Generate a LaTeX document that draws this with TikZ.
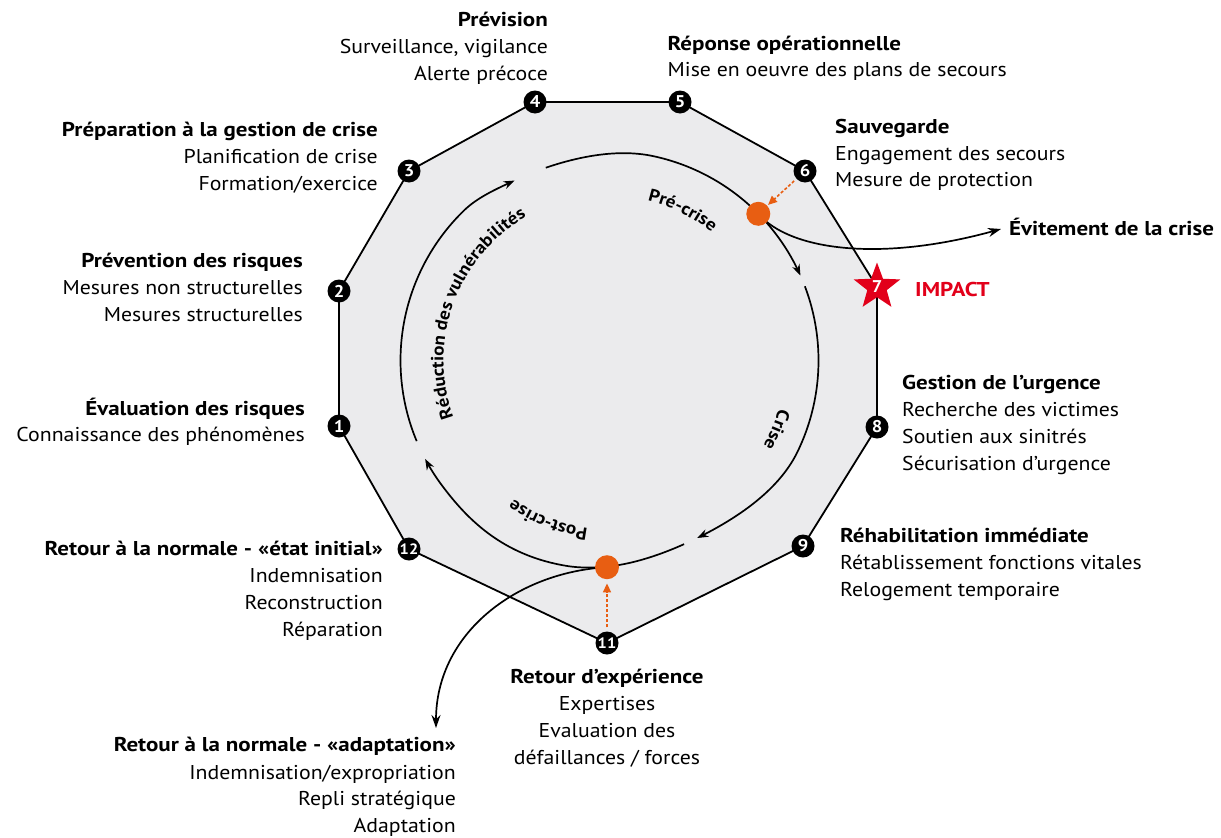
\documentclass[tikz,border=0pt]{standalone}
\usepackage{fontspec}
\setmainfont{PT Sans}[FakeStretch=1.09]
\newfontfamily\hdfont{PT Sans}[FakeStretch=1.15]
\usetikzlibrary{arrows.meta,shapes.geometric,decorations.text}
\definecolor{polyfill}{RGB}{235,235,237}
\definecolor{dotorange}{RGB}{232,94,18}
\definecolor{impactred}{RGB}{226,0,26}
\begin{document}
\begin{tikzpicture}[x=1pt,y=1pt,
  declare function={
    bmp(\t,\c,\w)=max(0,1-((\t-(\c))/\w)^2)^2;
    rA(\t)=209-6*bmp(\t,114,20);
    rB(\t)=209-6*bmp(\t,110,32);
    rC(\t)=209-11*bmp(\t,-64,38)+2.5*bmp(\t,-118,25);
  },
  lbl/.style={inner sep=0pt, font=\fontsize{20}{24}\selectfont},
  hd/.style={inner sep=0pt, font=\hdfont\bfseries\fontsize{20}{24}\selectfont},
  num/.style={circle, fill=black, text=white, inner sep=0pt, minimum size=23pt, font=\bfseries\fontsize{17}{17}\selectfont},
  num2/.style={num, font=\bfseries\fontsize{15}{15}\selectfont},
  dot/.style={circle, fill=dotorange, inner sep=0pt, minimum size=24pt},
  poly/.style={line width=1.8pt, line join=miter},
  cyc/.style={line width=1.7pt},
  cyctip/.style={cyc, -{Stealth[length=11pt,width=8pt]}},
  outtip/.style={line width=1.7pt, -{Stealth[length=13pt,width=9pt]}},
  orarrow/.style={dotorange, line width=1.6pt, dash pattern=on 3pt off 2pt, -{Triangle[length=9pt,width=8pt]}},
  arclabel/.style={decorate, decoration={text along path, text align=center, text={|\bfseries\fontsize{17.5}{20}\selectfont|#1}}}
]
\fill[white] (0,0) rectangle (1221,-838);
\path[use as bounding box] (0,0) rectangle (1221,-838);

% polygon vertices
\coordinate (c1) at (339,-426);
\coordinate (c2) at (339,-291);
\coordinate (c3) at (409,-171);
\coordinate (c4) at (535,-102);
\coordinate (c5) at (680,-102);
\coordinate (c6) at (805,-171);
\coordinate (c7) at (877,-287);
\coordinate (c8) at (877,-427);
\coordinate (c9) at (803,-546);
\coordinate (c11) at (607,-643);
\coordinate (c12) at (409,-549);
\coordinate (cc) at (609.5,-360.5);

\filldraw[poly, fill=polyfill] (c1) -- (c2) -- (c3) -- (c4) -- (c5) -- (c6) -- (c7) -- (c8) -- (c9) -- (c11) -- (c12) -- cycle;

% cycle arcs
\draw[cyctip] plot[domain=202.7:117.8, samples=60, smooth] ({609.5+rA(\x)*cos(\x)}, {-360.5+rA(\x)*sin(\x)});
\draw[cyctip] plot[domain=108.3:24, samples=60, smooth] ({609.5+rB(\x)*cos(\x)}, {-360.5+rB(\x)*sin(\x)});
\draw[cyctip] plot[domain=20.8:-63.7, samples=60, smooth] ({609.5+rC(\x)*cos(\x)}, {-360.5+rC(\x)*sin(\x)});
\draw[cyctip] plot[domain=-67.9:-151.9, samples=60, smooth] ({609.5+rC(\x)*cos(\x)}, {-360.5+rC(\x)*sin(\x)});

% arc labels
\path[arclabel={Réduction des vulnérabilités}] (cc) ++(230:166) arc[start angle=230, end angle=90, radius=166];
\path[arclabel={Pré-crise}] (cc) ++(95:164) arc[start angle=95, end angle=33, radius=164];
\path[arclabel={Crise}] (cc) ++(8:176) arc[start angle=8, end angle=-53, radius=176];
\path[arclabel={Post-crise}] (cc) ++(280:169) arc[start angle=280, end angle=218, radius=169];

% text labels
\node[hd, anchor=base east] (t4a) at (548,-26.7) {Prévision};
\node[lbl, anchor=base east] (t4b) at (548,-53.3) {Surveillance, vigilance};
\node[lbl, anchor=base east] (t4c) at (548,-80) {Alerte précoce};

\node[hd, anchor=base east] (t3a) at (378,-136.7) {Préparation à la gestion de crise};
\node[lbl, anchor=base east] (t3b) at (378,-163.3) {Planification de crise};
\node[lbl, anchor=base east] (t3c) at (378,-190) {Formation/exercice};

\node[hd, anchor=base east] (t2a) at (303,-267) {Prévention des risques};
\node[lbl, anchor=base east] (t2b) at (303,-294.5) {Mesures non structurelles};
\node[lbl, anchor=base east] (t2c) at (303,-321.7) {Mesures structurelles};

\node[hd, anchor=base east] (t1a) at (305,-415) {Évaluation des risques};
\node[lbl, anchor=base east] (t1b) at (305,-441.7) {Connaissance des phénomènes};

\node[hd, anchor=base east] (t12a) at (383,-555) {Retour à la normale - «état initial»};
\node[lbl, anchor=base east] (t12b) at (383,-582.3) {Indemnisation};
\node[lbl, anchor=base east] (t12c) at (383,-609.3) {Reconstruction};
\node[lbl, anchor=base east] (t12d) at (383,-636) {Réparation};

\node[hd, anchor=base east] (tada) at (456,-751.7) {Retour à la normale - «adaptation»};
\node[lbl, anchor=base east] (tadb) at (456,-779) {Indemnisation/expropriation};
\node[lbl, anchor=base east] (tadc) at (456,-805.7) {Repli stratégique};
\node[lbl, anchor=base east] (tadd) at (456,-832.3) {Adaptation};

\node[hd, anchor=base] (t11a) at (607,-683.3) {Retour d’expérience};
\node[lbl, anchor=base] (t11b) at (607,-710.7) {Expertises};
\node[lbl, anchor=base] (t11c) at (607,-737.3) {Evaluation des};
\node[lbl, anchor=base] (t11d) at (607,-764.3) {défaillances / forces};

\node[hd, anchor=base west] (t5a) at (667.5,-50) {Réponse opérationnelle};
\node[lbl, anchor=base west] (t5b) at (667.5,-76.7) {Mise en oeuvre des plans de secours};

\node[hd, anchor=base west] (t6a) at (835,-133.3) {Sauvegarde};
\node[lbl, anchor=base west] (t6b) at (835,-160) {Engagement des secours};
\node[lbl, anchor=base west] (t6c) at (835,-186.7) {Mesure de protection};

\node[hd, anchor=base west] (tev) at (1009,-235) {Évitement de la crise};
\node[hd, anchor=base west, text=impactred] (timp) at (915,-296) {IMPACT};

\node[hd, anchor=base west] (t8a) at (902,-389.5) {Gestion de l’urgence};
\node[lbl, anchor=base west] (t8b) at (902,-416.5) {Recherche des victimes};
\node[lbl, anchor=base west] (t8c) at (902,-443.5) {Soutien aux sinitrés};
\node[lbl, anchor=base west] (t8d) at (902,-470.5) {Sécurisation d’urgence};

\node[hd, anchor=base west] (t9a) at (840,-542.5) {Réhabilitation immédiate};
\node[lbl, anchor=base west] (t9b) at (840,-569.5) {Rétablissement fonctions vitales};
\node[lbl, anchor=base west] (t9c) at (840,-596.5) {Relogement temporaire};

% branch curves
\coordinate (evtip) at (1001,-229);
\coordinate (adtip) at (436,-728);
\draw[outtip] (758.3,-213.8) .. controls +(32,-37) and +(-120,-33) .. (evtip);
\draw[outtip] (607,-567.2) .. controls +(-90,-5) and +(0,95) .. (adtip);

% orange dots
\node[dot] (d1) at (758.3,-213.8) {};
\node[dot] (d2) at (607,-567.2) {};

% numbered nodes
\node[num] (n1) at (c1) {1};
\node[num] (n2) at (c2) {2};
\node[num] (n3) at (c3) {3};
\node[num] (n4) at (c4) {4};
\node[num] (n5) at (c5) {5};
\node[num] (n6) at (c6) {6};
\node[star, star points=5, star point ratio=2.4, fill=impactred, minimum size=49pt, inner sep=0pt, text=white, font=\bfseries\fontsize{17}{17}\selectfont] (n7) at (c7) {7};
\node[num] (n8) at (c8) {8};
\node[num] (n9) at (c9) {9};
\node[num2] (n11) at (c11) {11};
\node[num2] (n12) at (c12) {12};

% orange dotted arrows
\draw[orarrow, shorten <=3pt, shorten >=1pt] (n6) -- (d1);
\draw[orarrow, shorten <=4pt, shorten >=4pt] (n11) -- (d2);
\end{tikzpicture}
\end{document}
